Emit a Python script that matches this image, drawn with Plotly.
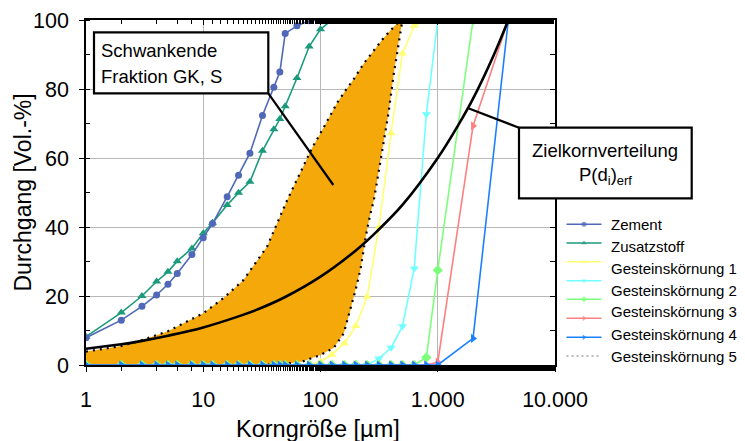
import plotly.graph_objects as go

# ---------------- data ----------------
sieve = [1, 2, 3, 4, 5, 6, 8, 10, 12, 16, 20, 25, 32, 40, 45, 50, 63, 80, 100,
         125, 160, 200, 250, 315, 400, 500, 630, 800, 1000, 2000, 4000]

zement = [7.9, 13, 17, 20.3, 23.4, 26.5, 32, 36.9, 41, 48.8, 55, 61.4, 72.3, 80.5, 84.9, 96.1, 98.3, 99.8, 100,
          100, 100, 100, 100, 100, 100, 100, 100, 100, 100, 100, 100]
zusatzstoff = [8.2, 15.2, 20, 24.2, 27, 30.1, 33.8, 38.2, 41.2, 46.4, 49.9, 53.1, 62.1, 68.3, 71.3, 75, 83.2, 92.3, 97.3,
               100, 100, 100, 100, 100, 100, 100, 100, 100, 100, 100, 100]
gk1 = [0, 0, 0, 0, 0, 0, 0, 0, 0, 0, 0, 0, 0, 0, 0, 0, 0, 0, 1,
       3, 6.3, 11.3, 19.8, 40, 67.2, 90.3, 98.3, 100, 100, 100, 100]
gk2 = [0, 0, 0, 0, 0, 0, 0, 0, 0, 0, 0, 0, 0, 0, 0, 0, 0, 0, 0,
       0, 0, 0, 0, 1.9, 5, 11.2, 28, 72.7, 100, 100, 100]
gk3 = [0, 0, 0, 0, 0, 0, 0, 0, 0, 0, 0, 0, 0, 0, 0, 0, 0, 0, 0,
       0, 0, 0, 0, 0, 0, 0, 0, 2.2, 27.5, 100, 100]
gk4 = [0, 0, 0, 0, 0, 0, 0, 0, 0, 0, 0, 0, 0, 0, 0, 0, 0, 0, 0,
       0, 0, 0, 0, 0, 0, 0, 0, 0, 0.8, 69.3, 100]
gk5 = [0, 0, 0, 0, 0, 0, 0, 0, 0, 0, 0, 0, 0, 0, 0, 0, 0, 0, 0,
       0, 0, 0, 0, 0, 0, 0, 0, 0, 0, 7.7, 100]

# band of the fluctuating fraction (upper and lower boundary)
band_up_x = [1, 2, 3, 5, 10, 15, 22, 35, 52, 70, 85, 100, 120, 140, 165, 190, 235, 286, 340, 396, 440, 480]
band_up_y = [3.9, 5.5, 7.2, 9.8, 15, 19.5, 24.6, 34.3, 47.8, 57, 63, 67.2, 72.3, 76.2, 79.8, 82.6, 87.5, 91.3,
             94.5, 97, 98.8, 100]
band_lo_x = [1, 10, 30, 50, 70, 100, 130, 158, 180, 200, 220, 243, 265, 285, 310, 336, 380, 420, 460, 500]
band_lo_y = [0, 0, 0, 0.3, 1, 2.9, 5, 9.2, 15.9, 22, 28, 37.2, 43.5, 47.8, 55, 62.3, 73, 84, 93, 100]

# target grading curve P(d_i)_erf
ziel_x = [1, 2, 3, 5, 10, 20, 30, 50, 100, 200, 300, 500, 1000, 1500, 2000, 3000, 4000]
ziel_y = [4.7, 6.0, 7.0, 8.5, 10.9, 14.1, 16.3, 19.7, 25.6, 33.2, 38.6, 46.4, 60, 69.6, 77.2, 89.8, 100]

x_tickvals = [1, 10, 100, 1000, 10000]
x_ticktext = ["1", "10", "100", "1.000", "10.000"]
y_tickvals = [0, 20, 40, 60, 80, 100]

legend_labels = ["Zement", "Zusatzstoff", "Gesteinskörnung 1", "Gesteinskörnung 2",
                 "Gesteinskörnung 3", "Gesteinskörnung 4", "Gesteinskörnung 5"]

# ---------------- styles ----------------
W, H = 745, 441
L, T, B = 86, 20, 76
PLOT_R = 555
FONT = "Arial, Liberation Sans, sans-serif"

c_zement = "#4f68b8"
c_zus = "#1c9a7c"
c_gk1 = "#ffff73"
c_gk2 = "#70ffff"
c_gk3 = "#7dff7d"
c_gk4 = "#ff8080"
c_gk5 = "#1a80ff"
c_band = "#f5a80a"

pw = W - L  # paper width (margin r = 0)
ph = H - T - B


def px(xp):
    return (xp - L) / pw


def py(yp):
    return (H - B - yp) / ph


fig = go.Figure()

# band fill
fig.add_trace(go.Scatter(x=band_up_x + band_lo_x[::-1], y=band_up_y + band_lo_y[::-1],
                         fill="toself", fillcolor=c_band, mode="lines",
                         line=dict(width=0, color=c_band), hoverinfo="skip", showlegend=False))
for bx, by in ((band_up_x, band_up_y), (band_lo_x, band_lo_y)):
    fig.add_trace(go.Scatter(x=bx, y=by, mode="lines", line=dict(color="black", width=2.2, dash="2px,5px"),
                             showlegend=False, hoverinfo="skip"))

series = [
    ("Zusatzstoff", zusatzstoff, c_zus, "triangle-up", 8),
    ("Gesteinskörnung 1", gk1, c_gk1, "triangle-up", 8),
    ("Gesteinskörnung 2", gk2, c_gk2, "triangle-down", 8),
    ("Gesteinskörnung 3", gk3, c_gk3, "diamond", 8),
    ("Gesteinskörnung 4", gk4, c_gk4, "triangle-right", 8),
    ("Gesteinskörnung 5", gk5, c_gk5, "triangle-right", 8),
    ("Zement", zement, c_zement, "circle", 7),
]
for name, vals, col, sym, sz in series:
    fig.add_trace(go.Scatter(x=sieve, y=vals, name=name, mode="lines+markers",
                             line=dict(color=col, width=1.6),
                             marker=dict(symbol=sym, size=sz, color=col, line=dict(width=0)),
                             showlegend=False))

# target curve
fig.add_trace(go.Scatter(x=ziel_x, y=ziel_y, mode="lines", line=dict(color="black", width=2.6),
                         line_shape="spline", showlegend=False))

# invisible traces for mirror axes
fig.add_trace(go.Scatter(x=[1], y=[0], xaxis="x2", yaxis="y", mode="markers",
                         marker=dict(opacity=0), showlegend=False, hoverinfo="skip"))
fig.add_trace(go.Scatter(x=[1], y=[0], xaxis="x", yaxis="y2", mode="markers",
                         marker=dict(opacity=0), showlegend=False, hoverinfo="skip"))

# ---------------- manual legend (pixel coords on x3/y3) ----------------
sample_y = [224.3, 243, 261.7, 280.7, 299.3, 318.3, 337.3, 356]
sample_cols = [c_zement, c_zus, c_gk1, c_gk2, c_gk3, c_gk4, c_gk5, "#777777"]
sample_sym = ["circle", "triangle-up", "triangle-up", "triangle-down", "diamond",
              "triangle-right", "triangle-right", "circle"]
for i, (sy, col, sym) in enumerate(zip(sample_y, sample_cols, sample_sym)):
    dotted = i == len(sample_y) - 1
    fig.add_trace(go.Scatter(x=[566.5, 584, 601.5], y=[sy, sy, sy], xaxis="x3", yaxis="y3",
                             mode="lines" if dotted else "lines+markers",
                             line=dict(color=col, width=1.4 if not dotted else 1.2,
                                       dash="2px,3px" if dotted else "solid"),
                             marker=dict(symbol=sym, size=[0, 5, 0], color=col, line=dict(width=0)),
                             showlegend=False, hoverinfo="skip"))

text_y = [224.3, 246, 268.3, 290, 311.7, 334.3, 356]
annotations = []
for lab, ty in zip(legend_labels, text_y):
    annotations.append(dict(x=609, y=ty, xref="x3", yref="y3", text=lab, showarrow=False,
                            xanchor="left", yanchor="middle", font=dict(size=15, color="black", family=FONT)))

# callout texts
annotations += [
    dict(x=px(99), y=py(50), xref="paper", yref="paper", text="Schwankende", showarrow=False,
         xanchor="left", yanchor="middle", font=dict(size=18.5, color="black", family=FONT)),
    dict(x=px(99), y=py(76), xref="paper", yref="paper", text="Fraktion GK, S", showarrow=False,
         xanchor="left", yanchor="middle", font=dict(size=18.5, color="black", family=FONT)),
    dict(x=px(605), y=py(150.7), xref="paper", yref="paper", text="Zielkornverteilung", showarrow=False,
         xanchor="center", yanchor="middle", font=dict(size=18.5, color="black", family=FONT)),
    dict(x=px(605), y=py(176), xref="paper", yref="paper", text="P(d<sub>i</sub>)<sub>erf</sub>",
         showarrow=False, xanchor="center", yanchor="middle", font=dict(size=18.5, color="black", family=FONT)),
    dict(x=px(22), y=0.5, xref="paper", yref="paper", text="Durchgang [Vol.-%]", showarrow=False,
         textangle=-90, xanchor="center", yanchor="middle", font=dict(size=23, color="black", family=FONT)),
    dict(x=px(318), y=py(429), xref="paper", yref="paper", text="Korngröße [µm]", showarrow=False,
         xanchor="center", yanchor="middle", font=dict(size=23.5, color="black", family=FONT)),
]

shapes = [
    dict(type="line", xref="paper", yref="paper", x0=px(268.3), y0=py(93.3), x1=px(333.3), y1=py(185),
         line=dict(color="black", width=2.2), layer="above"),
    dict(type="rect", xref="paper", yref="paper", x0=px(94), y0=py(32.3), x1=px(268.3), y1=py(93.3),
         fillcolor="white", line=dict(color="black", width=2.2), layer="above"),
    dict(type="line", xref="paper", yref="paper", x0=px(468.3), y0=py(108.3), x1=px(519), y1=py(127.7),
         line=dict(color="black", width=2.2), layer="above"),
    dict(type="rect", xref="paper", yref="paper", x0=px(519), y0=py(127.7), x1=px(691.7), y1=py(198.3),
         fillcolor="white", line=dict(color="black", width=2.2), layer="above"),
]

dom_x = (PLOT_R - L) / pw
axis_common = dict(showline=True, linecolor="black", linewidth=1.5, zeroline=False, automargin=False)

fig.update_layout(
    template="none",
    width=W, height=H, autosize=False,
    margin=dict(l=L, r=0, t=T, b=B, pad=0, autoexpand=False),
    paper_bgcolor="white", plot_bgcolor="white",
    font=dict(family=FONT, color="black"),
    showlegend=False,
    xaxis=dict(type="log", range=[0, 4], domain=[0, dom_x], anchor="y",
               tickvals=x_tickvals, ticktext=x_ticktext, ticks="outside", ticklen=5, tickwidth=1.2,
               tickcolor="black", tickfont=dict(size=21.5, family=FONT, color="black"), ticklabelstandoff=9,
               showgrid=True, gridcolor="#b8b8b8", gridwidth=1,
               minor=dict(ticks="outside", ticklen=4, tickwidth=1, tickcolor="black", showgrid=False),
               **axis_common),
    xaxis2=dict(type="log", range=[0, 4], overlaying="x", side="top", anchor="y",
                tickvals=x_tickvals, ticks="inside", ticklen=5, tickcolor="black", showticklabels=False,
                showgrid=False,
                minor=dict(ticks="inside", ticklen=4, tickwidth=1, tickcolor="black", showgrid=False),
                **axis_common),
    yaxis=dict(range=[0, 100], domain=[0, 1], anchor="x", tickvals=y_tickvals,
               ticks="outside", ticklen=5, tickwidth=1.2, tickcolor="black",
               tickfont=dict(size=21.5, family=FONT, color="black"), ticklabelstandoff=6,
               showgrid=True, gridcolor="#b8b8b8", gridwidth=1,
               minor=dict(dtick=10, ticks="inside", ticklen=4, tickcolor="black", showgrid=False),
               **axis_common),
    yaxis2=dict(range=[0, 100], overlaying="y", side="right", anchor="x", dtick=10,
                ticks="inside", ticklen=5, tickcolor="black", showticklabels=False, showgrid=False,
                **axis_common),
    xaxis3=dict(domain=[dom_x, 1], range=[PLOT_R, W], visible=False, anchor="y3", automargin=False),
    yaxis3=dict(domain=[0, 1], range=[H - B, T], visible=False, anchor="x3", automargin=False),
    annotations=annotations,
    shapes=shapes,
)

fig.write_html("out.html", config={"responsive": False, "displayModeBar": False},
               post_script="document.body.style.margin='0';document.body.style.overflow='hidden';")
